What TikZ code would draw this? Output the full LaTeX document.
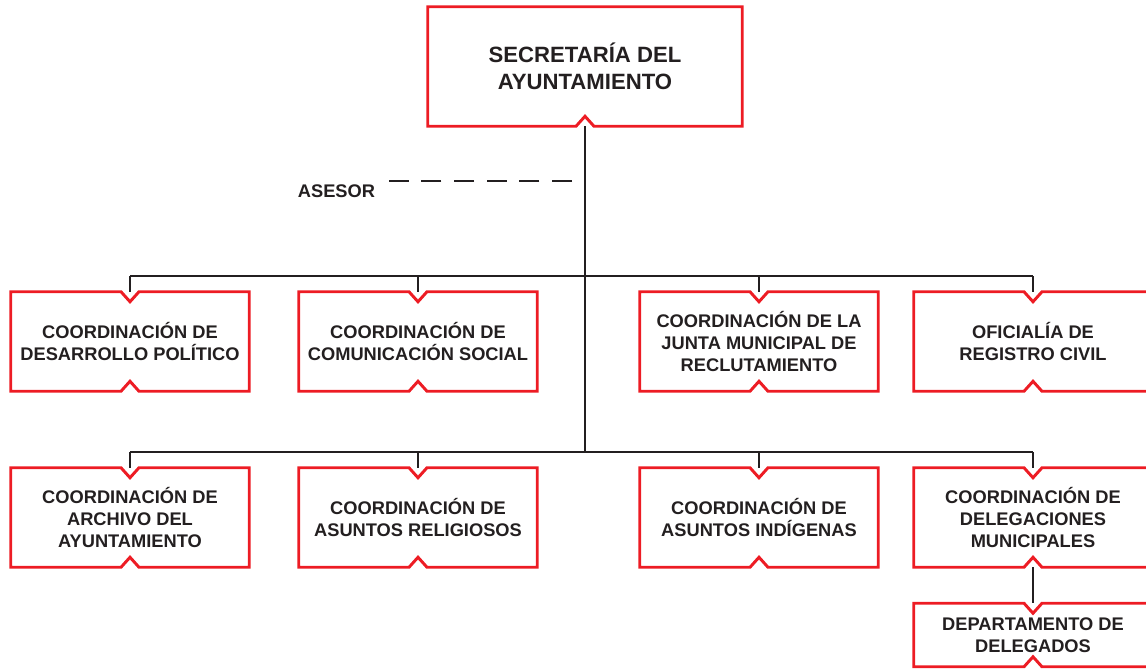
\documentclass[tikz,border=0pt]{standalone}
\usepackage{fontspec}
\setmainfont{Liberation Sans}
\usepackage{tikz}
\definecolor{boxred}{RGB}{237,28,36}
\definecolor{inkblack}{RGB}{35,31,32}

\tikzset{
	unitbox/.style={shape=rectangle, inner sep=0, minimum width=178.5pt, minimum height=74.25pt, align=center, text=inkblack, font=\fontsize{13.7}{16.5}\selectfont\bfseries},
	boxline/.style={draw=boxred, line width=2.2pt},
	orgline/.style={draw=inkblack, line width=2pt},
	asesorline/.style={draw=inkblack, line width=2pt, dash pattern=on 15pt off 9.5pt}
}

\begin{document}
\begin{tikzpicture}[x=0.75pt, y=-0.75pt]
	% Page frame:
	\clip (0, 0) rectangle (1146, 668);
	% Boxes:
	\node[unitbox, minimum width=235.5pt, minimum height=89.25pt, font=\fontsize{16.6}{20.25}\selectfont\bfseries] (secretaria) at (585, 66.5){SECRETARÍA DEL\\AYUNTAMIENTO};
	\node[unitbox] (desarrollo) at (130, 341.5){COORDINACIÓN DE\\DESARROLLO POLÍTICO};
	\node[unitbox] (comunicacion) at (418, 341.5){COORDINACIÓN DE\\COMUNICACIÓN SOCIAL};
	\node[unitbox] (junta) at (759, 341.5){COORDINACIÓN DE LA\\JUNTA MUNICIPAL DE\\RECLUTAMIENTO};
	\node[unitbox] (registro) at (1033, 341.5){OFICIALÍA DE\\REGISTRO CIVIL};
	\node[unitbox] (archivo) at (130, 517.5){COORDINACIÓN DE\\ARCHIVO DEL\\AYUNTAMIENTO};
	\node[unitbox] (religiosos) at (418, 517.5){COORDINACIÓN DE\\ASUNTOS RELIGIOSOS};
	\node[unitbox] (indigenas) at (759, 517.5){COORDINACIÓN DE\\ASUNTOS INDÍGENAS};
	\node[unitbox] (delegaciones) at (1033, 517.5){COORDINACIÓN DE\\DELEGACIONES\\MUNICIPALES};
	\node[unitbox, minimum height=47.25pt] (delegados) at (1033, 635){DEPARTAMENTO DE\\DELEGADOS};
	\node[unitbox, minimum width=0pt, minimum height=0pt] (asesor) at (336.5, 191.5){ASESOR};
	% Outlines with notches:
	\draw[boxline] (secretaria.north west) -- (secretaria.north east) -- (secretaria.south east) -- ([xshift=6.75pt]secretaria.south) -- ([yshift=7.5pt]secretaria.south) -- ([xshift=-6.75pt]secretaria.south) -- (secretaria.south west) -- cycle;
	\foreach \n in {desarrollo, comunicacion, junta, registro, archivo, religiosos, indigenas, delegaciones, delegados}
		\draw[boxline] (\n.north west) -- ([xshift=-6.75pt]\n.north) -- ([yshift=-7.5pt]\n.north) -- ([xshift=6.75pt]\n.north) -- (\n.north east) -- (\n.south east) -- ([xshift=6.75pt]\n.south) -- ([yshift=7.5pt]\n.south) -- ([xshift=-6.75pt]\n.south) -- (\n.south west) -- cycle;
	% Wires:
	\coordinate (busone) at (585, 276);
	\coordinate (bustwo) at (585, 452);
	\coordinate (asesorjoin) at (572, 181);
	\draw[orgline] (secretaria.south) -- (bustwo);
	\draw[asesorline] (asesorjoin) -- ([xshift=6pt]asesor.east |- asesorjoin);
	\draw[orgline] (desarrollo.north |- busone) -- (registro.north |- busone);
	\foreach \n in {desarrollo, comunicacion, junta, registro}
		\draw[orgline] (\n.north |- busone) -- (\n.north);
	\draw[orgline] (archivo.north |- bustwo) -- (delegaciones.north |- bustwo);
	\foreach \n in {archivo, religiosos, indigenas, delegaciones}
		\draw[orgline] (\n.north |- bustwo) -- (\n.north);
	\draw[orgline] (delegaciones.south) -- (delegados.north);
\end{tikzpicture}
\end{document}
